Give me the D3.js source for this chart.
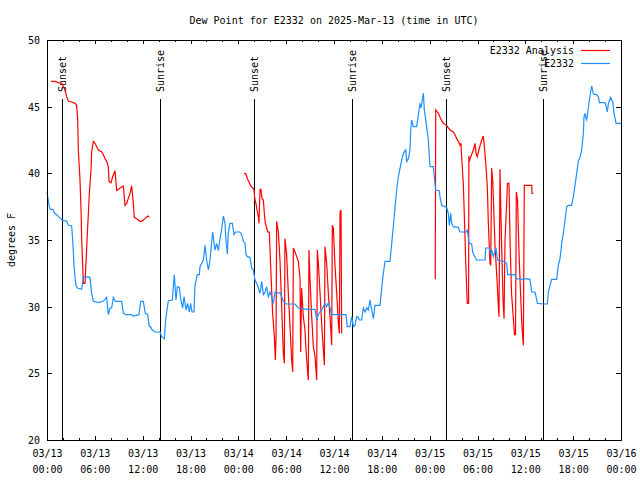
<!DOCTYPE html>
<html><head><meta charset="utf-8">
<script src="https://cdn.jsdelivr.net/npm/d3@7"></script>
<style>
body{margin:0;background:#fff}
text{font-family:"DejaVu Sans Mono","Liberation Mono",monospace;font-size:10px;fill:#000}
</style>
</head><body><svg id="c" width="640" height="480"></svg>
<script>
// ---- data ----
const startTime = Date.UTC(2025, 2, 13, 0, 0);
const titleText = "Dew Point for E2332 on 2025-Mar-13 (time in UTC)";
const yLabel = "degrees F";
const seriesNames = ["E2332 Analysis", "E2332"];
const seriesColors = ["#ff0000", "#1e90ff"];

const obsHours = [0.0,0.29,0.42,0.71,0.96,1.21,1.46,1.71,1.84,2.47,2.68,3.09,3.22,3.39,3.55,3.64,3.81,4.35,4.56,5.39,5.6,5.81,6.44,7.07,7.48,7.69,7.9,8.11,8.32,8.57,9.37,9.57,9.91,10.62,10.83,11.54,11.75,12.08,12.33,12.63,12.84,13.0,13.13,13.55,14.18,14.38,14.72,14.88,15.22,15.72,15.97,16.18,16.35,16.6,16.77,17.02,17.19,17.44,17.64,17.85,18.02,18.19,18.44,18.56,18.86,19.11,19.19,19.61,19.82,20.03,20.24,20.45,20.78,21.07,21.28,21.49,21.7,21.9,22.12,22.33,22.45,22.62,22.74,22.95,23.25,23.46,23.67,24.2,24.42,24.63,24.84,24.96,25.13,25.46,25.67,25.88,26.09,26.3,26.51,26.72,26.93,27.14,27.35,27.55,27.76,27.97,28.18,28.39,28.6,28.81,29.23,29.44,29.65,29.86,30.06,31.11,31.53,32.57,33.62,33.83,34.03,34.24,34.45,34.87,35.08,35.29,35.58,35.71,36.75,37.5,37.67,38.0,38.22,38.43,38.63,38.84,39.05,39.18,39.47,39.68,39.89,40.1,40.31,40.52,40.73,40.94,41.14,41.77,41.98,42.19,42.4,43.02,43.24,43.44,43.65,43.86,44.07,44.49,44.7,44.99,45.12,45.33,45.53,45.62,45.74,45.95,46.37,46.58,46.79,46.91,47.0,47.21,47.33,47.62,47.83,48.04,48.46,48.58,48.75,49.21,49.29,49.5,50.13,50.34,50.47,50.64,50.76,50.97,51.6,51.81,52.65,52.73,52.94,53.27,53.4,53.69,53.9,54.95,55.03,55.49,55.66,55.78,55.99,56.33,56.5,57.25,57.66,57.79,58.71,58.83,59.75,59.96,60.58,60.8,61.21,61.34,61.51,62.26,62.76,62.89,63.1,63.31,63.93,64.14,64.35,64.56,64.77,64.98,65.19,65.4,65.81,66.02,66.23,66.44,66.65,66.86,67.07,67.28,67.36,67.49,67.61,67.69,67.9,68.03,68.19,68.32,68.45,68.53,68.95,69.16,69.29,70.0,70.13,70.29,70.42,70.54,70.71,70.84,70.96,71.13,71.38,72.0];
const obsDew = [38.6,37.5,37.3,37.3,37.0,36.9,36.75,36.6,36.5,36.4,36.1,36.05,35.05,33.1,32.0,31.6,31.4,31.3,32.25,32.2,31.0,30.4,30.3,30.4,30.7,29.4,29.9,29.9,30.7,30.4,30.4,29.5,29.4,29.4,29.3,29.4,30.4,30.4,29.5,29.4,28.5,28.5,28.3,28.1,28.1,27.75,27.6,29.0,30.45,30.5,32.4,30.5,31.5,31.45,30.6,29.9,30.75,29.75,30.25,29.6,30.25,29.6,29.6,31.6,32.4,32.4,33.0,33.5,34.6,33.5,32.75,33.5,35.6,34.25,34.75,34.2,35.1,35.75,36.8,36.25,35.0,33.95,35.5,36.25,36.25,35.4,35.6,35.6,35.4,34.9,34.75,33.9,33.75,33.7,32.9,32.75,32.0,31.75,31.4,31.0,31.9,30.9,31.1,31.5,30.75,31.1,30.75,30.25,31.1,31.0,31.05,30.75,30.4,30.25,30.2,30.2,29.9,29.8,29.8,29.0,29.4,29.6,29.75,30.25,30.0,30.3,29.75,29.4,29.4,29.4,28.5,28.5,29.25,28.5,28.6,29.25,29.2,29.0,29.0,29.9,29.6,29.9,29.75,30.5,29.75,29.1,30.1,30.1,31.4,32.5,33.4,33.4,34.75,36.0,37.4,38.75,39.75,41.0,41.5,41.75,40.9,41.1,41.75,43.25,44.0,43.5,43.5,44.4,45.25,44.9,45.2,46.0,44.75,43.5,42.5,40.5,40.5,39.75,38.75,38.7,38.25,37.6,37.45,37.0,36.1,37.0,36.25,36.0,35.95,35.6,35.6,35.8,34.75,34.7,34.1,33.7,33.5,33.5,34.4,34.4,33.9,34.25,33.75,34.4,33.5,33.4,33.25,32.4,32.4,32.1,32.05,32.1,32.05,31.1,31.1,30.75,30.25,30.2,30.2,31.1,31.6,32.05,32.05,33.1,33.6,34.75,35.5,36.5,37.5,37.6,37.6,38.25,39.1,40.0,40.9,41.2,41.75,43.0,44.25,44.5,44.1,44.0,44.9,45.5,46.1,46.55,46.25,45.95,45.9,45.75,45.3,45.3,45.05,44.6,45.25,45.45,45.7,45.45,45.4,44.5,43.75,43.75];

const anaHours = [0.5,1.0,1.42,1.84,2.05,2.26,2.47,2.68,3.09,3.51,3.72,3.85,3.93,4.14,4.27,4.35,4.43,4.56,4.77,4.89,5.06,5.19,5.31,5.52,5.6,5.81,6.02,6.23,6.44,6.86,7.07,7.28,7.49,7.69,7.78,8.03,8.24,8.53,8.74,9.16,9.58,9.78,9.99,10.41,10.62,10.83,10.95,11.25,11.66,11.87,12.29,12.63,12.84,
 null,
 24.71,24.96,25.13,25.38,25.55,25.8,25.96,26.09,26.21,26.3,26.42,26.51,26.59,26.72,26.84,26.97,27.14,27.26,27.39,27.56,27.68,27.89,28.06,28.3,28.52,28.64,28.73,28.81,29.02,29.23,29.44,29.64,29.77,29.85,30.06,30.27,30.48,30.69,30.82,30.9,31.11,31.32,31.53,31.74,31.82,31.94,32.15,32.36,32.57,32.78,32.86,32.99,33.2,33.41,33.62,33.83,33.91,34.04,34.25,34.45,34.66,34.79,34.87,35.08,35.29,35.5,35.71,35.79,35.92,36.13,36.34,36.55,36.67,36.76,36.88,36.96,
 null,
 48.70,48.76,49.09,49.3,49.51,49.72,50.13,50.34,50.55,50.97,51.18,51.39,51.6,51.81,51.93,52.01,52.22,52.43,52.52,52.65,52.72,52.88,52.92,52.98,53.15,53.48,53.69,53.81,53.98,54.23,54.53,54.73,54.86,55.07,55.23,55.36,55.57,55.66,55.78,55.91,56.20,56.45,56.61,56.70,56.82,57.01,57.20,57.33,57.45,57.64,57.76,57.95,58.08,58.27,58.45,58.64,58.77,58.87,59.02,59.21,59.40,59.58,59.75,59.87,60.80,60.84,61.0];
const anaDew = [46.9,46.9,46.8,46.75,46.5,46.25,45.75,45.4,45.35,45.25,45.1,44.0,41.75,39.5,37.25,35.0,33.75,31.75,31.75,33.25,35.5,37.0,38.5,40.25,41.6,42.4,42.25,42.0,41.75,41.6,41.4,41.1,40.9,40.5,39.4,39.3,39.75,40.2,38.7,38.9,39.05,37.6,37.75,38.5,39.05,37.75,36.7,36.6,36.4,36.4,36.6,36.8,36.7,
 null,
 40.0,39.95,39.6,39.3,39.05,38.9,38.75,38.0,37.75,37.4,37.0,36.75,36.25,38.8,38.8,38.1,38.0,37.0,36.25,35.9,35.6,35.6,33.0,29.5,27.75,26.0,27.75,36.4,35.6,33.4,30.0,26.5,25.75,35.1,33.9,31.0,28.5,26.0,25.1,34.4,34.1,33.75,33.4,32.1,26.6,31.4,29.25,28.25,26.0,24.5,34.25,32.1,29.25,27.0,26.25,24.5,34.25,33.25,31.0,28.75,26.75,25.6,34.5,33.25,31.0,29.25,27.1,36.1,35.9,33.0,31.0,28.75,28.0,37.1,37.25,28.0,
 null,
 32.05,44.75,44.5,44.2,43.95,43.75,43.6,43.4,43.25,43.1,42.9,42.6,42.4,42.1,42.25,41.25,39.25,35.25,33.4,31.25,30.25,30.25,41.3,40.9,41.25,41.75,42.25,41.5,41.25,41.9,42.5,42.8,42.0,40.5,39.0,36.25,33.25,33.1,40.4,39.5,34.5,32.0,30.1,29.25,40.3,35.0,30.5,29.1,35.0,37.5,39.25,39.25,35.0,31.0,29.5,27.9,27.9,38.6,38.0,34.0,31.0,28.5,27.1,39.1,39.1,38.5,38.5];

const sunLabels = ["Sunset","Sunrise","Sunset","Sunrise","Sunset","Sunrise"];
const sunHours = [1.94,14.17,25.97,38.26,50.09,62.26];
const yTicks = [20,25,30,35,40,45,50];
const majorTickHours = [0,6,12,18,24,30,36,42,48,54,60,66,72];
const minorTickHours = d3.range(0, 73, 2);

// ---- drawing ----
const W = 640, H = 480;
const L = 47, R = 621, T = 40, B = 440;
const svg = d3.select("#c");
const toDate = h => new Date(startTime + h * 3600e3);

const x = d3.scaleUtc().domain([toDate(0), toDate(72)]).range([L, R]);
const y = d3.scaleLinear().domain([20, 50]).range([B, T]);

// title
svg.append("text").attr("x", (L + R) / 2).attr("y", 24).attr("text-anchor", "middle").text(titleText);
// y label
svg.append("text").attr("transform", `translate(15,${(T + B) / 2}) rotate(-90)`).attr("text-anchor", "middle").text(yLabel);

function styleAxis(g){ g.select(".domain").remove(); g.selectAll("line").attr("stroke","#000").attr("shape-rendering","crispEdges"); }

// minor ticks bottom/top
svg.append("g").attr("transform", `translate(0,${B})`)
  .call(d3.axisBottom(x).tickValues(minorTickHours.map(toDate)).tickSizeInner(-2).tickSizeOuter(0).tickFormat(""))
  .call(styleAxis);
svg.append("g").attr("transform", `translate(0,${T})`)
  .call(d3.axisTop(x).tickValues(minorTickHours.map(toDate)).tickSizeInner(-2).tickSizeOuter(0).tickFormat(""))
  .call(styleAxis);
// major ticks top
svg.append("g").attr("transform", `translate(0,${T})`)
  .call(d3.axisTop(x).tickValues(majorTickHours.map(toDate)).tickSizeInner(-4).tickSizeOuter(0).tickFormat(""))
  .call(styleAxis);
// major ticks bottom with labels
const fmtDate = d3.utcFormat("%m/%d"), fmtTime = d3.utcFormat("%H:%M");
const gx = svg.append("g").attr("transform", `translate(0,${B})`)
  .call(d3.axisBottom(x).tickValues(majorTickHours.map(toDate)).tickSizeInner(-4).tickSizeOuter(0).tickFormat(fmtDate))
  .call(styleAxis);
gx.selectAll(".tick text").each(function(d){
  const t = d3.select(this);
  t.text(null).attr("y", 0).attr("dy", null).attr("font-family", null).attr("font-size", null).attr("fill", null);
  t.append("tspan").attr("x", 0).attr("y", 17).text(fmtDate(d));
  t.append("tspan").attr("x", 0).attr("y", 33).text(fmtTime(d));
});
gx.attr("font-family", null).attr("font-size", null);

// y axes
const gy = svg.append("g").attr("transform", `translate(${L},0)`)
  .call(d3.axisLeft(y).tickValues(yTicks).tickSizeInner(-5).tickSizeOuter(0).tickPadding(7).tickFormat(d3.format("d")))
  .call(styleAxis);
gy.attr("font-family", null).attr("font-size", null);
gy.selectAll(".tick text").attr("fill", null).attr("dy", "0.35em");
svg.append("g").attr("transform", `translate(${R},0)`)
  .call(d3.axisRight(y).tickValues(yTicks).tickSizeInner(-5).tickSizeOuter(0).tickFormat(""))
  .call(styleAxis);

// sunrise / sunset lines
const sun = svg.append("g");
sunHours.forEach((h, i) => {
  const xx = Math.round(x(toDate(h))) + 0.5;
  sun.append("line").attr("x1", xx).attr("x2", xx).attr("y1", 99).attr("y2", B)
    .attr("stroke", "#000").attr("stroke-width", 1);
  sun.append("text").attr("transform", `translate(${xx + 3.5},92) rotate(-90)`)
    .attr("text-anchor", "start").text(sunLabels[i]);
});

// data lines
const obsData = obsHours.map((h, i) => [toDate(h), obsDew[i]]);
const anaData = anaHours.map((h, i) => [h == null ? null : toDate(h), anaDew[i]]);
const line = d3.line().defined(d => d[0] != null && d[1] != null).x(d => x(d[0])).y(d => y(d[1]));

svg.append("path").datum(anaData).attr("d", line).attr("fill", "none")
  .attr("stroke", seriesColors[0]).attr("stroke-width", 1.2).attr("stroke-linejoin", "miter");
svg.append("path").datum(obsData).attr("d", line).attr("fill", "none")
  .attr("stroke", seriesColors[1]).attr("stroke-width", 1.2).attr("stroke-linejoin", "miter");

// legend
seriesNames.forEach((n, i) => {
  const ly = 50 + i * 13;
  svg.append("text").attr("x", 574).attr("y", ly + 3.5).attr("text-anchor", "end").text(n);
  svg.append("line").attr("x1", 581).attr("x2", 610).attr("y1", ly + 0.5).attr("y2", ly + 0.5)
    .attr("stroke", seriesColors[i]).attr("stroke-width", 1.2);
});

// border
svg.append("rect").attr("x", L + 0.5).attr("y", T + 0.5).attr("width", R - L).attr("height", B - T)
  .attr("fill", "none").attr("stroke", "#000").attr("shape-rendering", "crispEdges");
</script>
</body></html>
